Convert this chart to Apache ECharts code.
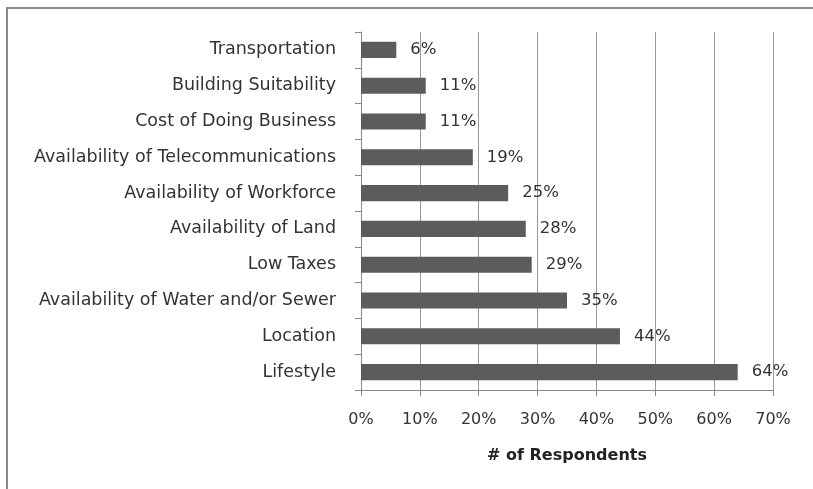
<!DOCTYPE html>
<html>
<head>
<meta charset="utf-8">
<script src="https://cdn.jsdelivr.net/npm/echarts@6/dist/echarts.min.js"></script>
<style>html,body{margin:0;padding:0;background:#fff}#c{width:813px;height:489px}</style>
</head>
<body>
<div id="c"></div>
<script>
const categories = ["Transportation","Building Suitability","Cost of Doing Business","Availability of Telecommunications","Availability of Workforce","Availability of Land","Low Taxes","Availability of Water and/or Sewer","Location","Lifestyle"];
const values = [6, 11, 11, 19, 25, 28, 29, 35, 44, 64];
const xTicks = [0, 10, 20, 30, 40, 50, 60, 70];
const axisTitle = "# of Respondents";

const chart = echarts.init(document.getElementById('c'), null, {renderer: 'canvas'});
const font = 'DejaVu Sans';
chart.setOption({
  animation: false,
  backgroundColor: '#fff',
  graphic: [{
    type: 'rect', shape: {x: 7, y: 8, width: 830, height: 500},
    style: {fill: 'none', stroke: '#8a8a8a', lineWidth: 2}, silent: true
  }],
  grid: {left: 361, right: 40, top: 32, bottom: 99, containLabel: false},
  xAxis: {
    type: 'value', min: xTicks[0], max: xTicks[xTicks.length - 1], interval: 10,
    axisLine: {show: true, lineStyle: {color: '#888', width: 1}},
    axisTick: {show: true, length: 6, lineStyle: {color: '#888'}},
    splitLine: {show: true, lineStyle: {color: '#999', width: 1}},
    axisLabel: {formatter: '{value}%', color: '#333', fontFamily: font, fontSize: 16, margin: 22},
    name: axisTitle, nameLocation: 'middle', nameGap: 58,
    nameTextStyle: {fontFamily: font, fontWeight: 'bold', fontSize: 16, color: '#222'}
  },
  yAxis: {
    type: 'category', data: categories, inverse: true,
    axisLine: {show: true, lineStyle: {color: '#888', width: 1}},
    axisTick: {show: true, length: 6, lineStyle: {color: '#888'}},
    splitLine: {show: false},
    axisLabel: {color: '#333', fontFamily: font, fontSize: 17.5, margin: 25}
  },
  series: [{
    type: 'bar', data: values, barCategoryGap: '55%',
    itemStyle: {color: '#5c5c5c'},
    label: {show: true, position: 'right', distance: 14, formatter: '{c}%',
      color: '#333', fontFamily: font, fontSize: 16.5}
  }]
});
</script>
</body>
</html>
